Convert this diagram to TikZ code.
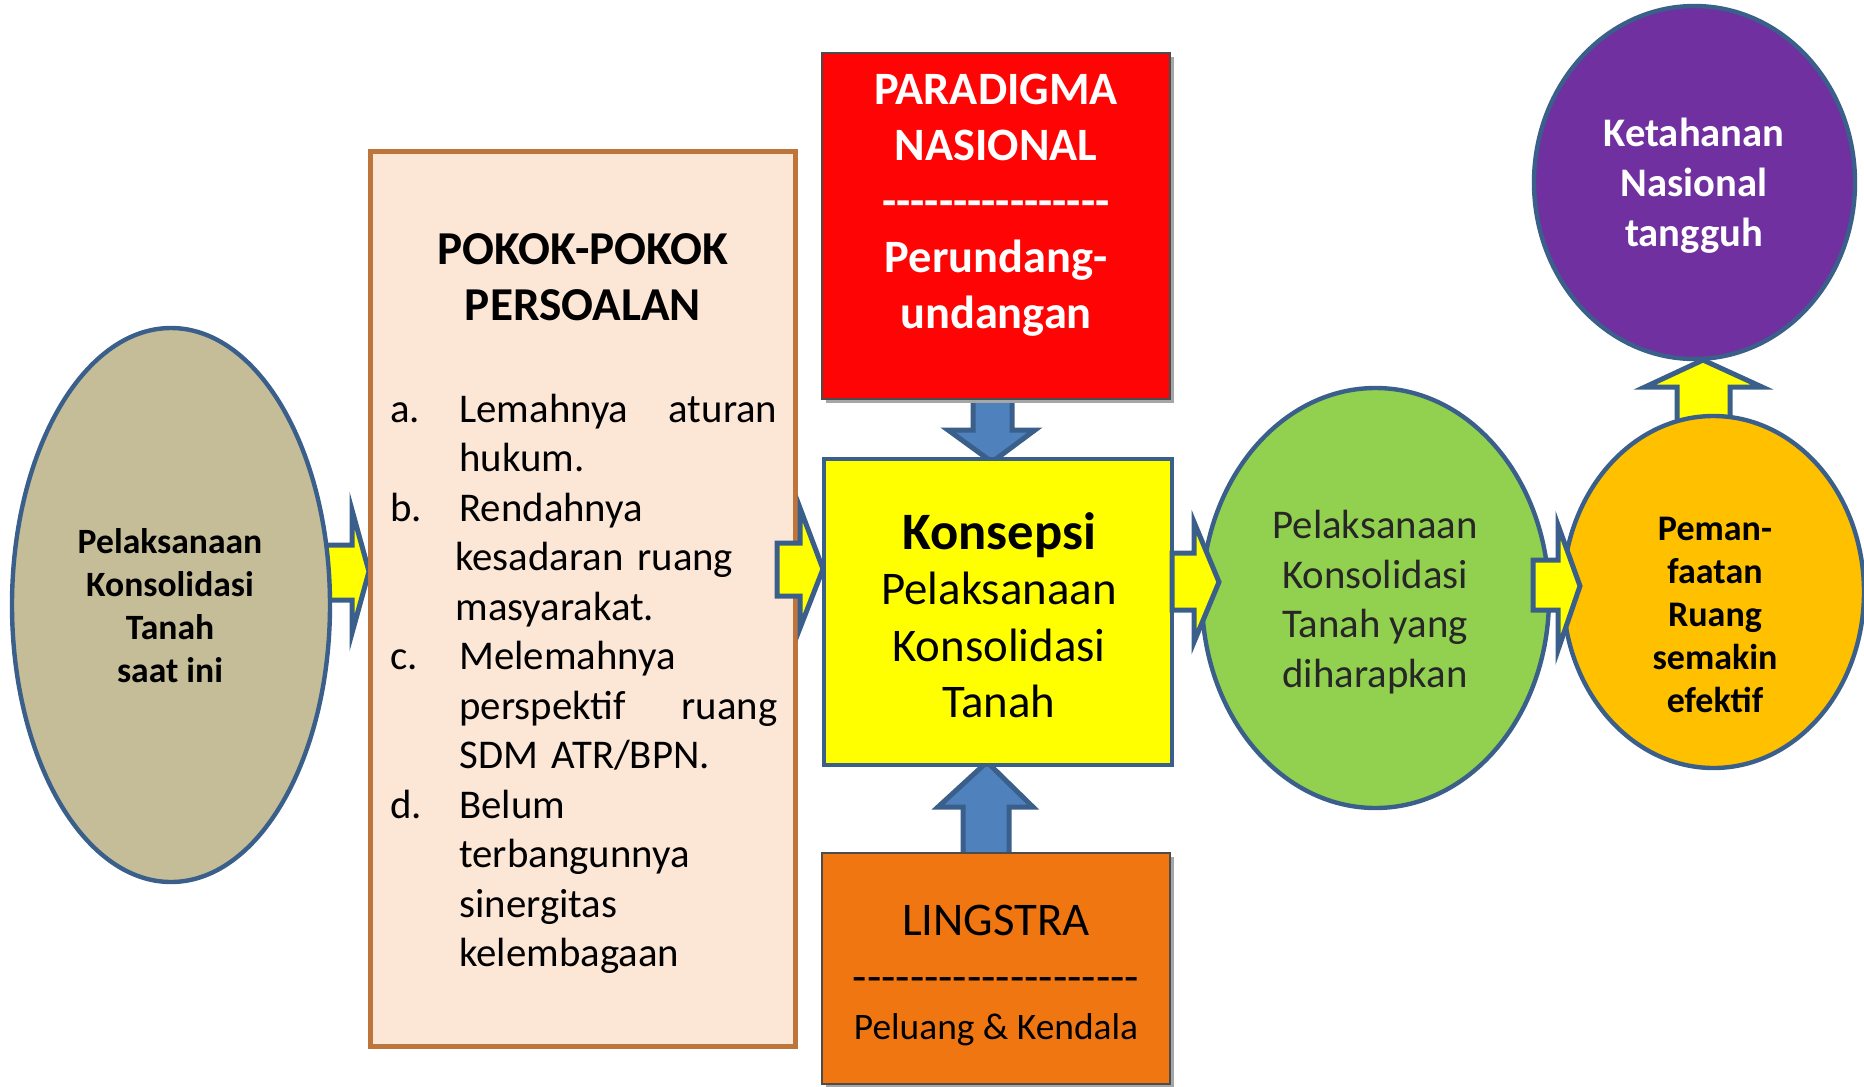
\documentclass[tikz,border=0pt]{standalone}
\usepackage{fontspec}
\setmainfont{Carlito}
\usetikzlibrary{shapes.geometric}
\definecolor{bline}{RGB}{58,95,139}
\definecolor{beige}{RGB}{196,189,151}
\definecolor{peach}{RGB}{252,230,214}
\definecolor{brownline}{RGB}{190,117,60}
\definecolor{boxred}{RGB}{255,4,4}
\definecolor{boxorange}{RGB}{240,118,18}
\definecolor{arrowblue}{RGB}{79,129,189}
\definecolor{lgreen}{RGB}{146,208,80}
\definecolor{gold}{RGB}{255,192,0}
\definecolor{violet}{RGB}{112,48,160}
\definecolor{yel}{RGB}{255,255,0}
\newcommand\myhyphens[1]{\foreach \n in {1,...,#1}{-{}}}
\begin{document}
\begin{tikzpicture}[x=0.5pt,y=-0.5pt,
  ell/.style={ellipse, draw=bline, line width=2.2pt, inner sep=0pt},
  fatarrow/.style={draw=bline, line width=2.5pt, fill=yel, line join=miter},
  bluearrow/.style={draw=bline, line width=2.5pt, fill=arrowblue, line join=miter},
  bevelbox/.style={draw=black!70, line width=1pt, inner sep=0pt},
  txt/.style={inner sep=0pt, align=center}]
\useasboundingbox (0,0) rectangle (1864,1087);

% arrow behind left ellipse
\draw[fatarrow] (300,545) -- (352,545) -- (352,510) -- (369,571.5) -- (352,633) -- (352,600) -- (300,600) -- cycle;
\node[ell, fill=beige, minimum width=159pt, minimum height=277pt] (e1) at (171,605) {};

% POKOK box
\node[draw=brownline, fill=peach, line width=2.5pt, minimum width=212.5pt, minimum height=447.5pt, inner sep=0pt] (pokok) at (582.5,598.5) {};

% arrow pokok -> konsepsi
\draw[fatarrow] (777,543) -- (800,543) -- (800,508) -- (823,569) -- (800,628) -- (800,596) -- (777,596) -- cycle;

% blue arrows
\draw[bluearrow] (973,385) -- (1012,385) -- (1012,430) -- (1035,430) -- (992,462) -- (948,430) -- (973,430) -- cycle;
\draw[bluearrow] (963,870) -- (963,807) -- (938,807) -- (987,762) -- (1033,807) -- (1009,807) -- (1009,870) -- cycle;

% boxes
\fill[black!35] (826,57) rectangle (1174,403);
\node[bevelbox, fill=boxred, minimum width=174pt, minimum height=173pt] (para) at (996,226) {};
\fill[black!35] (826,857) rectangle (1174,1090);
\node[bevelbox, fill=boxorange, minimum width=174pt, minimum height=115.5pt] (ling) at (996,968.5) {};
\node[draw=bline, line width=2pt, fill=yel, minimum width=174pt, minimum height=153pt, inner sep=0pt] (kons) at (998,612) {};

% green ellipse
\node[ell, fill=lgreen, minimum width=173.5pt, minimum height=210pt] (e2) at (1375.5,598) {};

% arrow konsepsi -> green
\draw[fatarrow] (1172,553) -- (1194,553) -- (1194,522) -- (1219,582) -- (1194,642) -- (1194,610) -- (1172,610) -- cycle;

% up arrow gold -> purple
\draw[fatarrow] (1677,440) -- (1677,387) -- (1645,387) -- (1703,360) -- (1762,387) -- (1730,387) -- (1730,440) -- cycle;

\node[ell, fill=gold, minimum width=150.5pt, minimum height=176pt] (e3) at (1713.5,592) {};
\node[ell, fill=violet, minimum width=160.5pt, minimum height=176.5pt] (e4) at (1694.5,182.5) {};

% arrow green -> gold
\draw[fatarrow] (1533,560) -- (1558,560) -- (1558,525) -- (1580,586) -- (1558,650) -- (1558,610) -- (1533,610) -- cycle;

% texts
\node[txt, font=\bfseries\fontsize{17.8}{21.5}\selectfont] (t1) at (170,606) {Pelaksanaan\\Konsolidasi\\Tanah\\saat ini};

\node[txt, font=\bfseries\fontsize{23.6}{28}\selectfont] (t2) at (583,277.5) {POKOK-POKOK\\PERSOALAN};

\foreach \lab/\k in {a./0, b./2, c./5, d./8}
  \node[inner sep=0pt, anchor=base west, font=\fontsize{20.4}{24.8}\selectfont] (lab\k) at (390,422+\k*49.5) {\lab};
\foreach \t/\dx [count=\i from 0] in {{Lemahnya\hfill aturan}/0, {hukum.}/0, {Rendahnya}/0, {kesadaran ruang}/-4, {masyarakat.}/-4, {Melemahnya}/0, {perspektif\hfill ruang}/0, {SDM ATR/BPN.}/0, {Belum}/0, {terbangunnya}/0, {sinergitas}/0, {kelembagaan}/0}
  \node[inner sep=0pt, anchor=base west, text width=159pt, align=left, font=\fontsize{20.4}{24.8}\selectfont] (li\i) at (459+\dx,422+\i*49.5) {\t};

\node[txt, font=\bfseries\fontsize{26.3}{30}\selectfont] (t3) at (999,535) {Konsepsi};
\node[txt, font=\fontsize{23.4}{28.25}\selectfont] (t4) at (999,645) {Pelaksanaan\\Konsolidasi\\Tanah};

\node[txt, text=white, font=\bfseries\fontsize{23.2}{28}\selectfont] (t5) at (996,205) {PARADIGMA\\NASIONAL\\\myhyphens{16}\\Perundang-\\undangan};

\node[txt, font=\fontsize{23.4}{28}\selectfont] (t6) at (996,920) {LINGSTRA};
\node[txt, font=\fontsize{23.4}{28}\selectfont] (t7) at (996,985) {\myhyphens{20}};
\node[txt, font=\fontsize{18.7}{22}\selectfont] (t8) at (996,1030) {Peluang \& Kendala};

\node[txt, text=black!85, font=\fontsize{20.4}{24.8}\selectfont] (t9) at (1375,602) {Pelaksanaan\\Konsolidasi\\Tanah yang\\diharapkan};

\node[txt, font=\bfseries\fontsize{18}{21.5}\selectfont] (t10) at (1715,615) {Peman-\\faatan\\Ruang\\semakin\\efektif};

\node[txt, text=white, font=\bfseries\fontsize{20.3}{25}\selectfont] (t11) at (1694,186) {Ketahanan\\Nasional\\tangguh};
\end{tikzpicture}
\end{document}
